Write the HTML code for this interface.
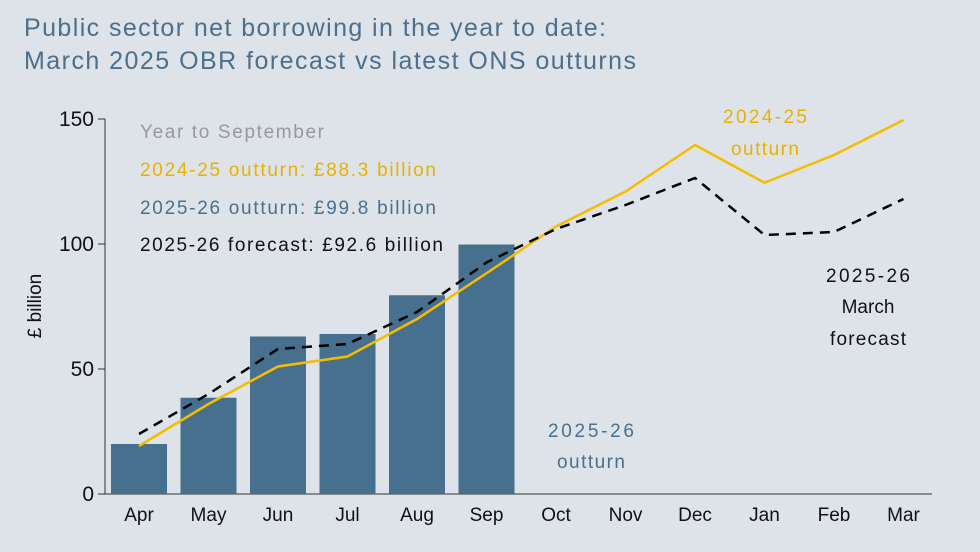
<!DOCTYPE html>
<html><head><meta charset="utf-8"><style>
body{margin:0;background:#dde3e8;}
svg{display:block;font-family:"Liberation Sans",sans-serif;}
</style></head><body>
<svg id="c" width="980" height="552">
<rect width="980" height="552" fill="#dde3e8"/>
<text x="24" y="36" font-size="25" fill="#4b6f8c" textLength="582" lengthAdjust="spacing">Public sector net borrowing in the year to date:</text>
<text x="24" y="69" font-size="25" fill="#4b6f8c" textLength="612" lengthAdjust="spacing">March 2025 OBR forecast vs latest ONS outturns</text>
<text transform="translate(41,306) rotate(-90)" text-anchor="middle" font-size="19" fill="#111">£ billion</text>
<g id="g"></g>
<text x="140" y="138" font-size="19" fill="#999" textLength="184" lengthAdjust="spacing">Year to September</text>
<text x="140" y="176" font-size="19" fill="#e8b100" textLength="296" lengthAdjust="spacing">2024-25 outturn: £88.3 billion</text>
<text x="140" y="214" font-size="19" fill="#4b6f8c" textLength="296" lengthAdjust="spacing">2025-26 outturn: £99.8 billion</text>
<text x="140" y="251" font-size="19" fill="#111" textLength="303" lengthAdjust="spacing">2025-26 forecast: £92.6 billion</text>
<text x="765" y="123" font-size="19" fill="#e8b100" text-anchor="middle" textLength="84" lengthAdjust="spacing">2024-25</text>
<text x="765" y="155" font-size="19" fill="#e8b100" text-anchor="middle" textLength="68" lengthAdjust="spacing">outturn</text>
<text x="868" y="282" font-size="19" fill="#111" text-anchor="middle" textLength="84" lengthAdjust="spacing">2025-26</text>
<text x="868" y="313" font-size="19" fill="#111" text-anchor="middle">March</text>
<text x="868" y="345" font-size="19" fill="#111" text-anchor="middle" textLength="76" lengthAdjust="spacing">forecast</text>
<text x="591" y="437" font-size="19" fill="#4b6f8c" text-anchor="middle" textLength="86" lengthAdjust="spacing">2025-26</text>
<text x="591" y="468" font-size="19" fill="#4b6f8c" text-anchor="middle" textLength="68" lengthAdjust="spacing">outturn</text>
</svg>
<script>
const months=["Apr","May","Jun","Jul","Aug","Sep","Oct","Nov","Dec","Jan","Feb","Mar"];
const outturn2526=[20,38.5,63,64,79.5,99.8];
const outturn2425=[19.2,36,51,55,70,88.3,107,121,139.6,124.5,135.6,149.6];
const forecast2526=[24,40,58,60,72.8,92.6,106,115.6,126.4,103.6,104.8,118];
const yTicks=[0,50,100,150];
const NS="http://www.w3.org/2000/svg";
const g=document.getElementById('g');
const x=i=>139+i*69.5;
const y=v=>494-v*2.5;
function mk(t,a){const e=document.createElementNS(NS,t);for(const k in a)e.setAttribute(k,a[k]);g.appendChild(e);return e;}
yTicks.forEach(v=>{
 const t=mk('text',{x:94,y:y(v)+7,'text-anchor':'end','font-size':21,fill:'#111'});t.textContent=v;
 
 
 const l=mk('line',{x1:98,x2:105,y1:y(v),y2:y(v),stroke:'#333'});
 
 
});
const ya=mk('line',{x1:105,x2:105,y1:y(150),y2:y(0),stroke:'#333'});


const xa=mk('line',{x1:105,x2:932,y1:y(0),y2:y(0),stroke:'#333'});


months.forEach((m,i)=>{
 const t=mk('text',{x:x(i),y:521,'text-anchor':'middle','font-size':19,fill:'#111'});t.textContent=m;
 
 
});
outturn2526.forEach((v,i)=>{
 const r=mk('rect',{x:x(i)-28,y:y(v),width:56,height:y(0)-y(v),fill:'#476f8e'});
 
 
});
const p1=mk('polyline',{points:outturn2425.map((v,i)=>x(i)+','+y(v)).join(' '),fill:'none',stroke:'#f5bd00','stroke-width':2.5});


const p2=mk('polyline',{points:forecast2526.map((v,i)=>x(i)+','+y(v)).join(' '),fill:'none',stroke:'#000','stroke-width':2.5,'stroke-dasharray':'10,7'});


</script>
</body></html>
